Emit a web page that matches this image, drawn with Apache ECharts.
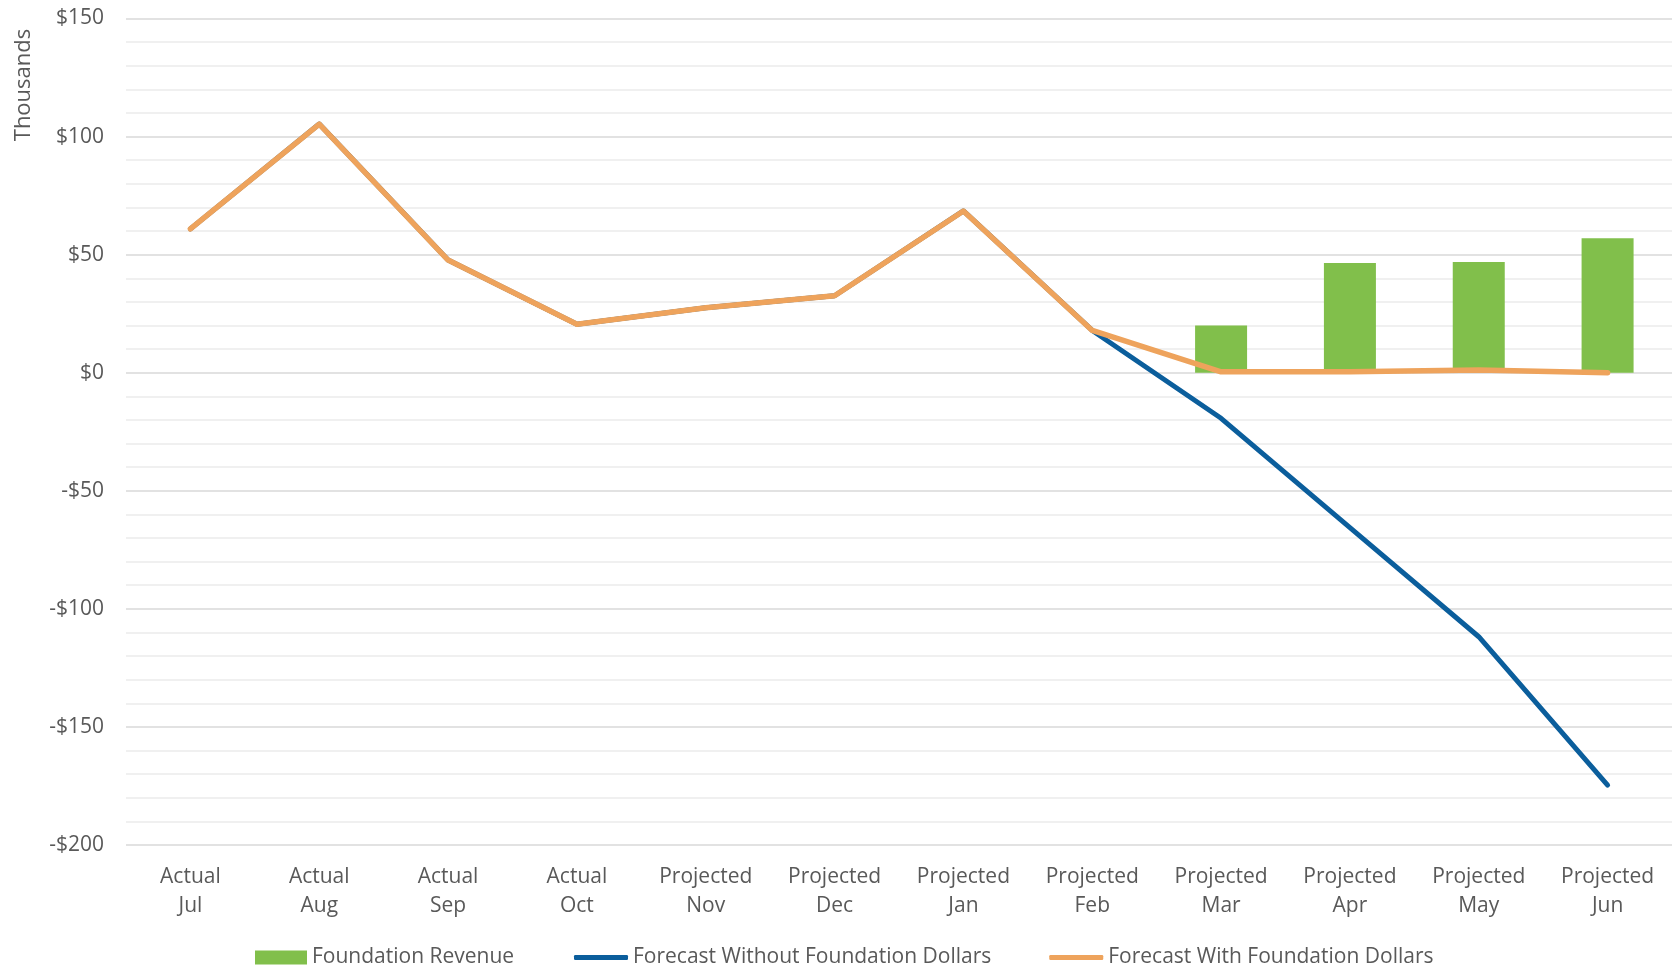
<!DOCTYPE html>
<html>
<head>
<meta charset="utf-8">
<script src="https://cdn.jsdelivr.net/npm/echarts@6/dist/echarts.min.js"></script>
<style>
  html, body { margin: 0; padding: 0; background: #fff; }
  #chart { width: 1677px; height: 968px; }
</style>
</head>
<body>
<div id="chart"></div>
<script>
// categories (two-line labels)
var categories = [
  'Actual\nJul', 'Actual\nAug', 'Actual\nSep', 'Actual\nOct',
  'Projected\nNov', 'Projected\nDec', 'Projected\nJan', 'Projected\nFeb',
  'Projected\nMar', 'Projected\nApr', 'Projected\nMay', 'Projected\nJun'
];
// values in thousands of dollars
var foundationRevenue = [null, null, null, null, null, null, null, null, 20, 46.5, 46.9, 56.9];
var forecastWithout = [60.9, 105.3, 47.7, 20.5, 27.5, 32.6, 68.5, 17.9, -19.3, -65.6, -111.8, -174.6];
var forecastWith = [60.9, 105.3, 47.7, 20.5, 27.5, 32.6, 68.5, 17.9, 0.4, 0.4, 1.1, 0];

var yMin = -200;
var yMax = 150;
var yStep = 50;

var fontFamily = '"Open Sans", "Noto Sans", sans-serif';
var textColor = '#595959';
var green = '#81bf4b';
var blue = '#0b5e9c';
var orange = '#eea35c';

var myChart = echarts.init(document.getElementById('chart'));

var legendText = { fontSize: 21, color: textColor, fontFamily: fontFamily };

myChart.setOption({
  animation: false,
  textStyle: { fontFamily: fontFamily },
  grid: {
    left: 126,
    right: 5,
    top: 18.5,
    bottom: 123,
    containLabel: false
  },
  legend: [
    {
      top: 942,
      left: 250,
      itemWidth: 52,
      itemHeight: 14,
      icon: 'rect',
      textStyle: legendText,
      data: ['Foundation Revenue']
    },
    {
      top: 942,
      left: 569,
      itemGap: 58,
      itemWidth: 54,
      itemHeight: 5,
      icon: 'roundRect',
      textStyle: legendText,
      data: ['Forecast Without Foundation Dollars', 'Forecast With Foundation Dollars']
    }
  ],
  graphic: [{
    type: 'text',
    x: 23.5,
    y: 85,
    rotation: Math.PI / 2,
    style: {
      text: 'Thousands',
      font: '22px ' + fontFamily,
      fill: textColor,
      align: 'center',
      verticalAlign: 'middle'
    }
  }],
  xAxis: {
    type: 'category',
    data: categories,
    axisLine: { show: false },
    axisTick: { show: false },
    axisLabel: {
      color: textColor,
      fontSize: 21,
      lineHeight: 29,
      margin: 18,
      interval: 0
    }
  },
  yAxis: {
    type: 'value',
    min: yMin,
    max: yMax,
    interval: yStep,
    axisLine: { show: false },
    axisTick: { show: false },
    axisLabel: {
      color: textColor,
      fontSize: 21,
      margin: 22,
      formatter: function (v) {
        return v < 0 ? '-$' + Math.abs(v) : '$' + v;
      }
    },
    splitLine: { lineStyle: { color: '#d9d9d9', width: 1.5 } },
    minorTick: { show: false, splitNumber: 5 },
    minorSplitLine: { show: true, lineStyle: { color: '#ececec', width: 1.5 } }
  },
  series: [
    {
      name: 'Foundation Revenue',
      type: 'bar',
      data: foundationRevenue,
      barWidth: 52,
      itemStyle: { color: green }
    },
    {
      name: 'Forecast Without Foundation Dollars',
      type: 'line',
      data: forecastWithout,
      symbol: 'none',
      itemStyle: { color: blue },
      lineStyle: { color: blue, width: 5, cap: 'round', join: 'round' }
    },
    {
      name: 'Forecast With Foundation Dollars',
      type: 'line',
      data: forecastWith,
      symbol: 'none',
      itemStyle: { color: orange },
      lineStyle: { color: orange, width: 5.5, cap: 'round', join: 'round' }
    }
  ]
});
</script>
</body>
</html>
